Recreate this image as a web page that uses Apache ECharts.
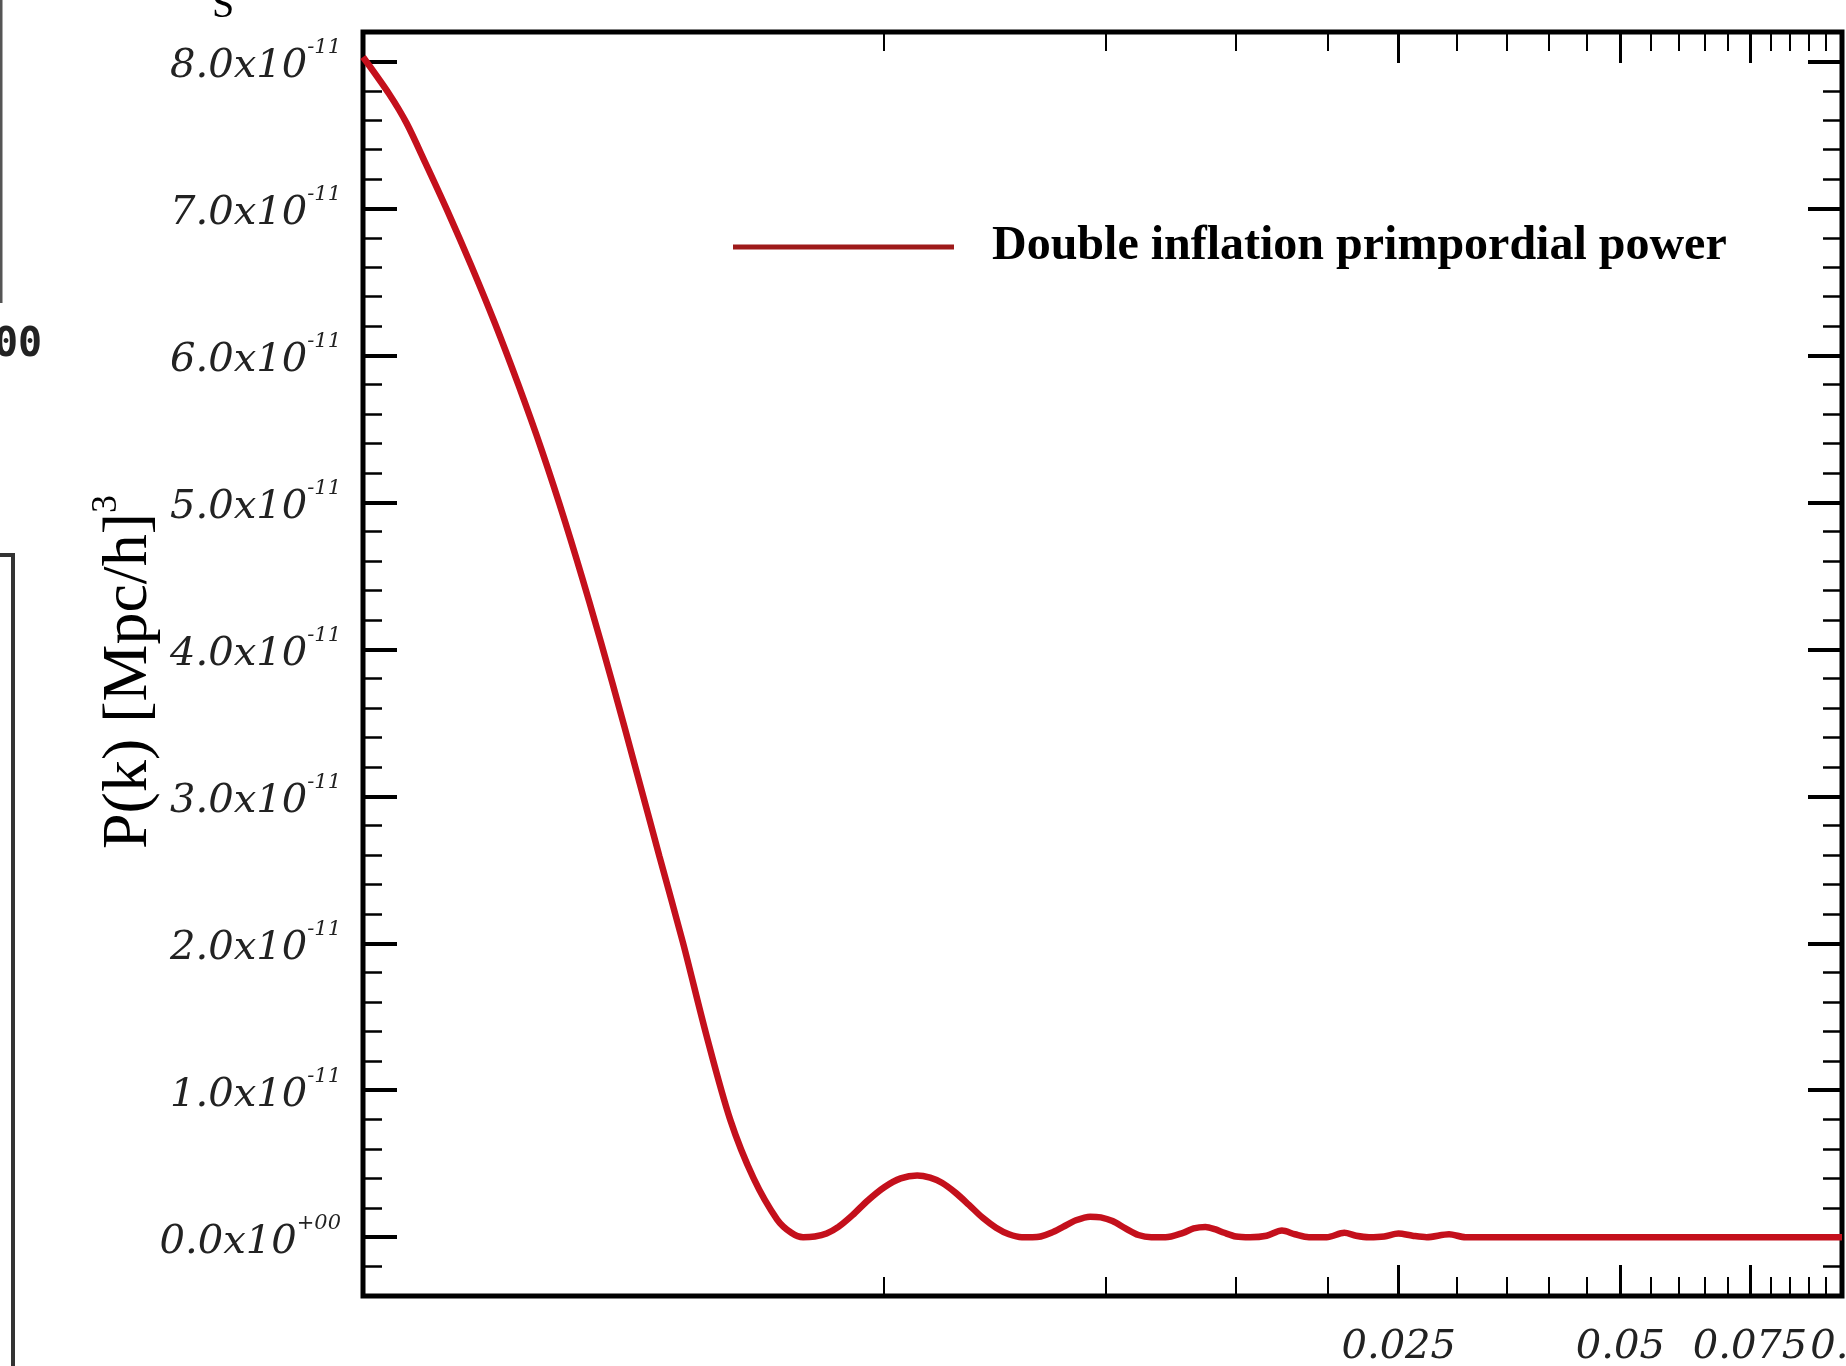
<!DOCTYPE html>
<html><head><meta charset="utf-8">
<script src="https://cdn.jsdelivr.net/npm/echarts@6/dist/echarts.min.js"></script>
<style>html,body{margin:0;padding:0;background:#fff}#c{width:1846px;height:1366px}</style>
</head><body><div id="c"></div>
<script>
// wavenumber k [h/Mpc]
const kValues = [0.00098, 0.001063, 0.001123, 0.001191, 0.001277, 0.001375, 0.001480, 0.001593, 0.001715, 0.001846,
  0.001987, 0.002138, 0.002302, 0.002477, 0.002667, 0.002870, 0.003090, 0.003325, 0.003579, 0.003741,
  0.003881, 0.004026, 0.004177, 0.004334, 0.004530, 0.004752, 0.005003, 0.005267, 0.005545, 0.005774,
  0.005991, 0.006261, 0.006520, 0.006814, 0.007096, 0.007389, 0.007694, 0.007953, 0.008160, 0.008435,
  0.008751, 0.009112, 0.009524, 0.009845, 0.010215, 0.010636, 0.011076, 0.011533, 0.012053, 0.012737,
  0.013166, 0.013659, 0.014067, 0.014487, 0.015030, 0.015709, 0.016540, 0.017350, 0.018066, 0.018881,
  0.019955, 0.021088, 0.021879, 0.022783, 0.023897, 0.024979, 0.026106, 0.027284, 0.029262, 0.030812,
  0.04, 0.06, 0.1];
// P(k) [Mpc/h]^3
const powerValues = [8.03e-11, 7.78e-11, 7.58e-11, 7.31e-11, 6.98e-11, 6.61e-11, 6.22e-11, 5.80e-11, 5.35e-11, 4.86e-11,
  4.33e-11, 3.77e-11, 3.18e-11, 2.59e-11, 2.00e-11, 1.37e-11, 0.80e-11, 0.40e-11, 0.12e-11, 0.03e-11,
  0.0, 0.005e-11, 0.025e-11, 0.07e-11, 0.15e-11, 0.25e-11, 0.34e-11, 0.40e-11, 0.42e-11, 0.405e-11,
  0.37e-11, 0.30e-11, 0.22e-11, 0.13e-11, 0.065e-11, 0.02e-11, 0.0, 0.0, 0.005e-11, 0.03e-11,
  0.07e-11, 0.115e-11, 0.14e-11, 0.135e-11, 0.11e-11, 0.06e-11, 0.015e-11, 0.0, 0.0, 0.03e-11,
  0.06e-11, 0.07e-11, 0.055e-11, 0.03e-11, 0.005e-11, 0.0, 0.01e-11, 0.045e-11, 0.02e-11, 0.0,
  0.0, 0.03e-11, 0.01e-11, 0.0, 0.005e-11, 0.025e-11, 0.01e-11, 0.0, 0.02e-11, 0.0,
  0.0, 0.0, 0.0];
const seriesName = 'Double inflation primpordial power';
const yAxisName = 'P(k) [Mpc/h]';
const yAxisNameSup = '3';
const xLabelValues = [0.025, 0.05, 0.075, 0.1];
const xMajorTicks = [0.025, 0.05, 0.075];
const xMinorTicks = [0.005, 0.01, 0.015, 0.02, 0.03, 0.035, 0.04, 0.045, 0.055, 0.06, 0.065, 0.07, 0.08, 0.085, 0.09, 0.095];
const yMajorTicks = [0, 1e-11, 2e-11, 3e-11, 4e-11, 5e-11, 6e-11, 7e-11, 8e-11];
const yMinorTicks = [];
for (let i = -2; i <= 41; i++) yMinorTicks.push(i * 0.2e-11);
const X_MIN = 0.00098, X_MAX = 0.1, Y_MIN = -0.4e-11, Y_MAX = 8.2e-11;

const labelFont = 'DejaVu Serif';
function xAxisDef(position, ticks, len, width, labels) {
  return {
    type: 'log', logBase: 10, position: position, min: X_MIN, max: X_MAX,
    axisLine: {show: false, onZero: false},
    splitLine: {show: false},
    minorTick: {show: false},
    axisTick: {show: true, inside: true, length: len, customValues: ticks, lineStyle: {color: '#000', width: width}},
    axisLabel: labels ? {
      show: true, customValues: xLabelValues, margin: 32, fontFamily: labelFont, fontStyle: 'italic',
      fontSize: 40, color: '#222', formatter: v => String(+(+v).toPrecision(6))
    } : {show: false}
  };
}
function yAxisDef(position, ticks, len, width, labels) {
  return {
    type: 'value', position: position, min: Y_MIN, max: Y_MAX,
    axisLine: {show: false, onZero: false},
    splitLine: {show: false},
    axisTick: {show: true, inside: true, length: len, customValues: ticks, lineStyle: {color: '#000', width: width}},
    axisLabel: labels ? {
      show: true, customValues: yMajorTicks, margin: 22,
      formatter: v => {
        const m = Math.round(v / 1e-11 * 10) / 10;
        if (m === 0) return '{m|0.0x10}{s|+00}';
        return '{m|' + m.toFixed(1) + 'x10}{s|-11}';
      },
      rich: {
        m: {fontFamily: labelFont, fontStyle: 'italic', fontSize: 40, color: '#222', lineHeight: 56, padding: [10, 0, 0, 0]},
        s: {fontFamily: labelFont, fontStyle: 'italic', fontSize: 21, color: '#222', lineHeight: 20, verticalAlign: 'top', padding: [4, 0, 0, 0]}
      }
    } : {show: false},
    name: labels ? '{a|' + yAxisName + '}{s|' + yAxisNameSup + '}' : '',
    nameLocation: 'middle', nameGap: 194, nameRotate: 90, nameMoveOverlap: false,
    nameTextStyle: {
      rich: {
        a: {fontFamily: 'Liberation Serif', fontSize: 64, color: '#000', lineHeight: 80},
        s: {fontFamily: 'Liberation Serif', fontSize: 36, color: '#000', lineHeight: 36, verticalAlign: 'top', padding: [0, 16, 0, 0]}
      }
    }
  };
}

const chart = echarts.init(document.getElementById('c'), null, {renderer: 'canvas'});
chart.setOption({
  backgroundColor: '#fff',
  animation: false,
  grid: {left: 363, right: 4, top: 32, bottom: 70, containLabel: false, outerBoundsMode: 'none',
    show: true, borderColor: '#000', borderWidth: 5, backgroundColor: 'transparent'},
  legend: {
    show: true, left: 733, top: 223, padding: 0, itemWidth: 221, itemHeight: 5, icon: 'rect',
    data: [seriesName],
    itemStyle: {color: '#9E1A1A'},
    textStyle: {fontFamily: 'Liberation Serif', fontWeight: 'bold', fontSize: 48, color: '#000', padding: [0, 0, 0, 33]}
  },
  xAxis: [
    xAxisDef('bottom', xMajorTicks, 31, 3, true),
    xAxisDef('bottom', xMinorTicks, 19, 2, false),
    xAxisDef('top', xMajorTicks, 31, 3, false),
    xAxisDef('top', xMinorTicks, 19, 2, false)
  ],
  yAxis: [
    yAxisDef('left', yMajorTicks, 34, 4, true),
    yAxisDef('left', yMinorTicks, 19, 2.5, false),
    yAxisDef('right', yMajorTicks, 34, 4, false),
    yAxisDef('right', yMinorTicks, 19, 2.5, false)
  ],
  series: [{
    name: seriesName, type: 'line', xAxisIndex: 0, yAxisIndex: 0,
    data: kValues.map((k, i) => [k, powerValues[i]]),
    smooth: 0.3, symbol: 'none', showSymbol: false,
    lineStyle: {color: '#C4101C', width: 6.5}, itemStyle: {color: '#C4101C'}
  }],
  graphic: [
    {type: 'line', shape: {x1: 1, y1: 0, x2: 1, y2: 303}, style: {stroke: '#555', lineWidth: 3}},
    {type: 'text', left: -6, top: 326, style: {text: '00', font: 'bold 40px "DejaVu Sans Mono"', fill: '#222'}},
    {type: 'polyline', shape: {points: [[0, 555], [13, 555], [13, 1366]]}, style: {stroke: '#333', lineWidth: 4, fill: null}},
    {type: 'text', left: 212, top: -14, style: {text: 'S', font: '40px "Liberation Serif"', fill: '#000'}}
  ]
});
</script></body></html>
